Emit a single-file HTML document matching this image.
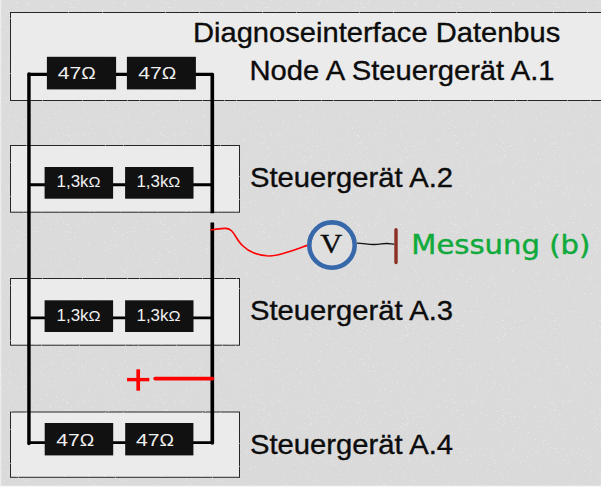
<!DOCTYPE html>
<html><head><meta charset="utf-8">
<style>
html,body{margin:0;padding:0;background:#dcdcdc;}
svg{display:block}
text{font-family:"Liberation Sans",sans-serif;}
.r{fill:#111}
.rt{fill:#f0f0f0;text-anchor:middle}
.a{font-size:17px}
.k{font-size:15.8px}
.ok{font-size:15px}
.oa{font-size:15.6px}
.w{stroke:#000;stroke-width:3.5;fill:none}
.b{fill:#ebebeb;stroke:#262626;stroke-width:1}
.l{font-size:27.4px;fill:#0c0c0c;stroke:#0c0c0c;stroke-width:0.35px}
</style></head><body>
<svg width="601" height="487" viewBox="0 0 601 487">
<defs><linearGradient id="bg" x1="0" y1="0" x2="0" y2="1"><stop offset="0" stop-color="#dcdcdc"/><stop offset="1" stop-color="#dadada"/></linearGradient><pattern id="nz" width="97" height="89" patternUnits="userSpaceOnUse"><g fill="#f2f2f2" fill-opacity="0.5"><rect x="41" y="19" width="1" height="1"/><rect x="50" y="83" width="1" height="1"/><rect x="6" y="9" width="1" height="1"/><rect x="68" y="12" width="1" height="1"/><rect x="46" y="74" width="1" height="1"/><rect x="7" y="64" width="1" height="1"/><rect x="27" y="4" width="1" height="1"/><rect x="11" y="55" width="1" height="1"/><rect x="53" y="8" width="1" height="1"/><rect x="30" y="11" width="1" height="1"/><rect x="70" y="54" width="1" height="1"/><rect x="7" y="72" width="1" height="1"/><rect x="15" y="28" width="1" height="1"/><rect x="80" y="80" width="1" height="1"/><rect x="74" y="7" width="1" height="1"/><rect x="73" y="74" width="1" height="1"/><rect x="50" y="6" width="1" height="1"/><rect x="28" y="5" width="1" height="1"/><rect x="71" y="17" width="1" height="1"/><rect x="37" y="53" width="1" height="1"/><rect x="18" y="69" width="1" height="1"/><rect x="15" y="73" width="1" height="1"/><rect x="39" y="71" width="1" height="1"/><rect x="87" y="23" width="1" height="1"/><rect x="13" y="74" width="1" height="1"/><rect x="73" y="81" width="1" height="1"/><rect x="24" y="47" width="1" height="1"/><rect x="12" y="70" width="1" height="1"/><rect x="91" y="8" width="1" height="1"/><rect x="72" y="7" width="1" height="1"/><rect x="79" y="26" width="1" height="1"/><rect x="63" y="87" width="1" height="1"/><rect x="68" y="54" width="1" height="1"/><rect x="40" y="59" width="1" height="1"/><rect x="74" y="58" width="1" height="1"/><rect x="46" y="38" width="1" height="1"/><rect x="31" y="23" width="1" height="1"/><rect x="89" y="31" width="1" height="1"/><rect x="10" y="73" width="1" height="1"/><rect x="38" y="67" width="1" height="1"/><rect x="63" y="43" width="1" height="1"/><rect x="93" y="57" width="1" height="1"/><rect x="36" y="77" width="1" height="1"/><rect x="9" y="15" width="1" height="1"/><rect x="65" y="53" width="1" height="1"/><rect x="21" y="43" width="1" height="1"/><rect x="19" y="62" width="1" height="1"/><rect x="53" y="5" width="1" height="1"/><rect x="85" y="9" width="1" height="1"/><rect x="71" y="73" width="1" height="1"/><rect x="40" y="43" width="1" height="1"/><rect x="88" y="44" width="1" height="1"/><rect x="76" y="63" width="1" height="1"/><rect x="74" y="58" width="1" height="1"/><rect x="8" y="11" width="1" height="1"/><rect x="34" y="60" width="1" height="1"/><rect x="89" y="85" width="1" height="1"/><rect x="8" y="7" width="1" height="1"/><rect x="93" y="39" width="1" height="1"/><rect x="82" y="73" width="1" height="1"/><rect x="87" y="57" width="1" height="1"/><rect x="36" y="49" width="1" height="1"/><rect x="85" y="44" width="1" height="1"/><rect x="2" y="59" width="1" height="1"/><rect x="45" y="21" width="1" height="1"/><rect x="78" y="14" width="1" height="1"/><rect x="63" y="7" width="1" height="1"/><rect x="27" y="36" width="1" height="1"/><rect x="16" y="31" width="1" height="1"/><rect x="50" y="50" width="1" height="1"/><rect x="63" y="10" width="1" height="1"/><rect x="21" y="57" width="1" height="1"/><rect x="51" y="70" width="1" height="1"/><rect x="35" y="17" width="1" height="1"/><rect x="55" y="70" width="1" height="1"/><rect x="35" y="53" width="1" height="1"/><rect x="45" y="87" width="1" height="1"/><rect x="48" y="29" width="1" height="1"/><rect x="19" y="10" width="1" height="1"/><rect x="22" y="19" width="1" height="1"/><rect x="29" y="84" width="1" height="1"/><rect x="29" y="1" width="1" height="1"/><rect x="62" y="75" width="1" height="1"/><rect x="23" y="33" width="1" height="1"/><rect x="36" y="0" width="1" height="1"/><rect x="18" y="53" width="1" height="1"/><rect x="68" y="47" width="1" height="1"/><rect x="78" y="72" width="1" height="1"/><rect x="40" y="16" width="1" height="1"/><rect x="88" y="65" width="1" height="1"/><rect x="79" y="83" width="1" height="1"/><rect x="86" y="6" width="1" height="1"/><rect x="58" y="87" width="1" height="1"/><rect x="71" y="50" width="1" height="1"/><rect x="50" y="51" width="1" height="1"/><rect x="50" y="13" width="1" height="1"/><rect x="61" y="81" width="1" height="1"/><rect x="51" y="7" width="1" height="1"/><rect x="24" y="8" width="1" height="1"/><rect x="26" y="56" width="1" height="1"/><rect x="20" y="14" width="1" height="1"/><rect x="43" y="76" width="1" height="1"/><rect x="6" y="13" width="1" height="1"/><rect x="0" y="72" width="1" height="1"/><rect x="19" y="68" width="1" height="1"/><rect x="12" y="46" width="1" height="1"/><rect x="78" y="3" width="1" height="1"/><rect x="9" y="26" width="1" height="1"/><rect x="78" y="48" width="1" height="1"/><rect x="19" y="81" width="1" height="1"/><rect x="32" y="44" width="1" height="1"/><rect x="77" y="46" width="1" height="1"/><rect x="60" y="15" width="1" height="1"/><rect x="14" y="62" width="1" height="1"/><rect x="59" y="61" width="1" height="1"/><rect x="61" y="39" width="1" height="1"/><rect x="10" y="18" width="1" height="1"/><rect x="13" y="43" width="1" height="1"/><rect x="94" y="33" width="1" height="1"/><rect x="61" y="88" width="1" height="1"/><rect x="20" y="66" width="1" height="1"/><rect x="2" y="26" width="1" height="1"/><rect x="67" y="46" width="1" height="1"/><rect x="18" y="88" width="1" height="1"/><rect x="69" y="3" width="1" height="1"/><rect x="67" y="38" width="1" height="1"/><rect x="82" y="11" width="1" height="1"/><rect x="89" y="33" width="1" height="1"/><rect x="66" y="46" width="1" height="1"/><rect x="21" y="45" width="1" height="1"/><rect x="28" y="68" width="1" height="1"/><rect x="69" y="64" width="1" height="1"/><rect x="42" y="81" width="1" height="1"/><rect x="28" y="78" width="1" height="1"/><rect x="24" y="30" width="1" height="1"/><rect x="51" y="29" width="1" height="1"/><rect x="25" y="66" width="1" height="1"/><rect x="63" y="45" width="1" height="1"/><rect x="93" y="3" width="1" height="1"/><rect x="3" y="35" width="1" height="1"/><rect x="60" y="33" width="1" height="1"/><rect x="24" y="88" width="1" height="1"/><rect x="77" y="44" width="1" height="1"/><rect x="57" y="44" width="1" height="1"/><rect x="46" y="10" width="1" height="1"/><rect x="28" y="13" width="1" height="1"/><rect x="29" y="60" width="1" height="1"/><rect x="25" y="43" width="1" height="1"/><rect x="26" y="61" width="1" height="1"/><rect x="79" y="78" width="1" height="1"/><rect x="0" y="61" width="1" height="1"/><rect x="83" y="44" width="1" height="1"/><rect x="82" y="10" width="1" height="1"/><rect x="84" y="15" width="1" height="1"/><rect x="49" y="25" width="1" height="1"/><rect x="61" y="22" width="1" height="1"/><rect x="55" y="81" width="1" height="1"/><rect x="42" y="11" width="1" height="1"/><rect x="92" y="50" width="1" height="1"/><rect x="59" y="51" width="1" height="1"/><rect x="95" y="10" width="1" height="1"/><rect x="92" y="20" width="1" height="1"/><rect x="21" y="16" width="1" height="1"/><rect x="3" y="19" width="1" height="1"/><rect x="75" y="59" width="1" height="1"/><rect x="83" y="18" width="1" height="1"/><rect x="78" y="76" width="1" height="1"/><rect x="60" y="84" width="1" height="1"/><rect x="44" y="19" width="1" height="1"/><rect x="70" y="70" width="1" height="1"/><rect x="16" y="2" width="1" height="1"/><rect x="1" y="83" width="1" height="1"/><rect x="13" y="67" width="1" height="1"/><rect x="95" y="17" width="1" height="1"/><rect x="55" y="24" width="1" height="1"/><rect x="27" y="3" width="1" height="1"/><rect x="32" y="27" width="1" height="1"/><rect x="37" y="64" width="1" height="1"/><rect x="30" y="75" width="1" height="1"/><rect x="41" y="33" width="1" height="1"/><rect x="69" y="53" width="1" height="1"/><rect x="16" y="7" width="1" height="1"/><rect x="94" y="45" width="1" height="1"/><rect x="58" y="84" width="1" height="1"/><rect x="74" y="66" width="1" height="1"/><rect x="53" y="64" width="1" height="1"/><rect x="16" y="68" width="1" height="1"/><rect x="19" y="67" width="1" height="1"/><rect x="65" y="2" width="1" height="1"/><rect x="56" y="23" width="1" height="1"/><rect x="77" y="0" width="1" height="1"/><rect x="19" y="22" width="1" height="1"/><rect x="18" y="60" width="1" height="1"/><rect x="79" y="15" width="1" height="1"/><rect x="71" y="7" width="1" height="1"/><rect x="41" y="87" width="1" height="1"/><rect x="66" y="67" width="1" height="1"/><rect x="71" y="61" width="1" height="1"/><rect x="13" y="71" width="1" height="1"/><rect x="7" y="31" width="1" height="1"/><rect x="24" y="35" width="1" height="1"/><rect x="5" y="12" width="1" height="1"/><rect x="64" y="57" width="1" height="1"/><rect x="71" y="3" width="1" height="1"/><rect x="8" y="56" width="1" height="1"/><rect x="41" y="78" width="1" height="1"/><rect x="64" y="77" width="1" height="1"/><rect x="65" y="25" width="1" height="1"/><rect x="88" y="35" width="1" height="1"/><rect x="57" y="65" width="1" height="1"/><rect x="68" y="61" width="1" height="1"/><rect x="64" y="31" width="1" height="1"/><rect x="89" y="66" width="1" height="1"/><rect x="33" y="71" width="1" height="1"/><rect x="25" y="57" width="1" height="1"/><rect x="17" y="53" width="1" height="1"/><rect x="15" y="50" width="1" height="1"/><rect x="56" y="40" width="1" height="1"/><rect x="9" y="85" width="1" height="1"/><rect x="30" y="54" width="1" height="1"/><rect x="9" y="27" width="1" height="1"/><rect x="85" y="38" width="1" height="1"/><rect x="15" y="19" width="1" height="1"/><rect x="91" y="82" width="1" height="1"/><rect x="84" y="46" width="1" height="1"/><rect x="18" y="32" width="1" height="1"/><rect x="17" y="59" width="1" height="1"/></g></pattern></defs>
<rect width="601" height="487" fill="url(#bg)"/>
<rect x="0" y="0" width="1.3" height="487" fill="#ececec"/>
<rect x="0" y="485.7" width="601" height="1.3" fill="#f6f6f6"/>
<!-- boxes -->
<rect class="b" x="10.5" y="12.5" width="600" height="88"/>
<rect class="b" x="10.5" y="145.5" width="229" height="66.7"/>
<rect class="b" x="10.5" y="278.5" width="229" height="66.7"/>
<rect class="b" x="10.5" y="412" width="229" height="65.3"/>
<rect width="601" height="487" fill="url(#nz)"/>
<!-- wires -->
<g stroke="#000" fill="none">
<path d="M28.95 74 V443.6" stroke-width="3.45" stroke-linecap="round"/>
<path d="M212.3 74.2 V213.2 M212.3 443.6 V222.5" stroke-width="3.65"/>
<path d="M29 74.4 H48 M115 74.4 H128 M195 74.4 H212.4" stroke-width="3.1" stroke-linecap="round"/>
<path d="M29 184.7 H45 M113 184.7 H126 M193 184.7 H212" stroke-width="2.9"/>
<path d="M29 317.9 H45 M113 317.9 H126 M193 317.9 H212" stroke-width="2.9"/>
<path d="M29 442.7 H45 M113 442.7 H126 M193 442.7 H212.4" stroke-width="2.8" stroke-linecap="round"/>
<circle cx="212.3" cy="74.4" r="1.7" fill="#000" stroke="none"/>
<circle cx="212.3" cy="443" r="1.8" fill="#000" stroke="none"/>
</g>
<!-- resistors -->
<rect class="r" x="46.9" y="56.8" width="69.2" height="32.6"/>
<rect class="r" x="126.9" y="56.8" width="69" height="32.6"/>
<rect class="r" x="44.6" y="167" width="68.5" height="31.7"/>
<rect class="r" x="125.1" y="167" width="68.4" height="31.7"/>
<rect class="r" x="44.6" y="300.3" width="68.5" height="31.7"/>
<rect class="r" x="125.1" y="300.3" width="68.4" height="31.7"/>
<rect class="r" x="44.7" y="423" width="68.5" height="32.4"/>
<rect class="r" x="125.2" y="423" width="68.2" height="32.4"/>
<text class="rt a" x="76.8" y="79.3" textLength="38" lengthAdjust="spacingAndGlyphs">47<tspan class="oa">Ω</tspan></text>
<text class="rt a" x="157.2" y="79.3" textLength="38" lengthAdjust="spacingAndGlyphs">47<tspan class="oa">Ω</tspan></text>
<text class="rt k" x="78.6" y="186.9" textLength="44" lengthAdjust="spacingAndGlyphs">1,3k<tspan class="ok">Ω</tspan></text>
<text class="rt k" x="158.4" y="186.9" textLength="44" lengthAdjust="spacingAndGlyphs">1,3k<tspan class="ok">Ω</tspan></text>
<text class="rt k" x="78.6" y="320.8" textLength="44" lengthAdjust="spacingAndGlyphs">1,3k<tspan class="ok">Ω</tspan></text>
<text class="rt k" x="158.5" y="320.8" textLength="44" lengthAdjust="spacingAndGlyphs">1,3k<tspan class="ok">Ω</tspan></text>
<text class="rt a" x="75.3" y="445.6" textLength="38" lengthAdjust="spacingAndGlyphs">47<tspan class="oa">Ω</tspan></text>
<text class="rt a" x="154.9" y="445.6" textLength="38" lengthAdjust="spacingAndGlyphs">47<tspan class="oa">Ω</tspan></text>
<!-- labels -->
<text class="l" x="193" y="42.2" textLength="367.3" lengthAdjust="spacingAndGlyphs">Diagnoseinterface Datenbus</text>
<text class="l" x="249.5" y="80.3" textLength="305" lengthAdjust="spacingAndGlyphs">Node A Steuergerät A.1</text>
<text class="l" x="250" y="187" textLength="203" lengthAdjust="spacingAndGlyphs">Steuergerät A.2</text>
<text class="l" x="250" y="320" textLength="203" lengthAdjust="spacingAndGlyphs">Steuergerät A.3</text>
<text class="l" x="250" y="453.7" textLength="203" lengthAdjust="spacingAndGlyphs">Steuergerät A.4</text>
<!-- red plus -->
<path d="M127 379.6 H149.3" stroke="#f00" stroke-width="3.4" fill="none"/><path d="M138.2 369.3 V390.7" stroke="#f00" stroke-width="3.7" fill="none"/>
<path d="M155.2 378.6 H212.4" stroke="#f00" stroke-width="3.8" stroke-linecap="round" fill="none"/>
<!-- probe -->
<path d="M210.4 230 C216 229 222 228.2 226 228.4 C231 228.8 233 232 236 237 C239 242 240 243.5 243 246 C247 250 250 251.5 254 253 C259 255 264 256 269 256 C276 256 282 253.8 288 252 C293 250.5 296 249.5 300 248 C303 247 305 246 307.5 245.4" stroke="#f00" stroke-width="1.6" fill="none"/>
<circle cx="332" cy="245.1" r="22.7" fill="#dfdfdf" stroke="#3769aa" stroke-width="4.6"/>
<text x="331.3" y="252.6" text-anchor="middle" textLength="22" lengthAdjust="spacingAndGlyphs" style="font-family:'Liberation Serif',serif;font-size:28px;fill:#0c0c0c;stroke:#0c0c0c;stroke-width:0.4px">V</text>
<path d="M357 243.1 C364 243.3 368 244.6 374 244.5 C380 244.4 383 243.4 387 243.5 C390 243.6 392 244 394.5 244.1" stroke="#111" stroke-width="1.4" fill="none"/>
<path d="M396 229.8 V262.5" stroke="#8b2f25" stroke-width="3.4" stroke-linecap="round" fill="none"/>
<text x="411.3" y="253.6" textLength="179" lengthAdjust="spacingAndGlyphs" style="font-family:'DejaVu Sans',sans-serif;font-size:27px;fill:#10aa3c;stroke:#10aa3c;stroke-width:0.45px">Messung (b)</text>
</svg>
</body></html>
